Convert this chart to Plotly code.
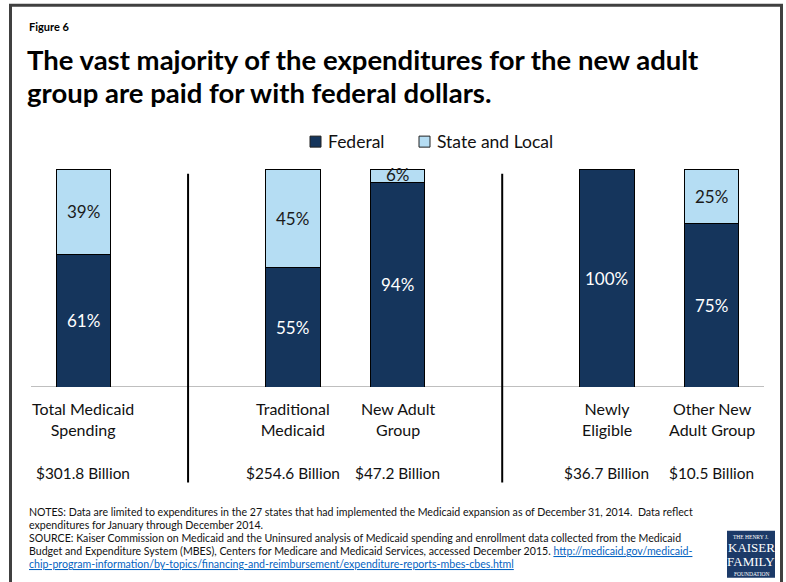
import plotly.graph_objects as go

# Spending groups and their split between funding sources (percent of spending)
categories = ["Total Medicaid<br>Spending", "Traditional<br>Medicaid", "New Adult<br>Group",
              "Newly<br>Eligible", "Other New<br>Adult Group"]
positions = [0, 2, 3, 5, 6]
totals = ["$301.8 Billion", "$254.6 Billion", "$47.2 Billion", "$36.7 Billion", "$10.5 Billion"]
federal = [61, 55, 94, 100, 75]
state_local = [39, 45, 6, 0, 25]
separators = [1, 4]
series_names = ["Federal", "State and Local"]

FED = "#15355c"
STATE = "#b5ddf3"
FONT = "Lato, 'Noto Sans', sans-serif"

W, H = 786, 582
L, R, T, B = 31, 764, 169.3, 386.7


def px_x(x):
    return (x - L) / (R - L)


def px_y(y):
    return (B - y) / (B - T)


fig = go.Figure()
fig.add_trace(go.Bar(x=positions, y=federal, name=series_names[0],
                     marker=dict(color=FED, line=dict(color="#000", width=1)),
                     width=0.52, hoverinfo="skip"))
fig.add_trace(go.Bar(x=positions, y=state_local, name=series_names[1],
                     marker=dict(color=STATE, line=dict(color="#000", width=1)),
                     width=0.52, hoverinfo="skip"))

ann = []
# segment value labels
for p, f, s in zip(positions, federal, state_local):
    if f:
        ann.append(dict(x=p, y=f / 2, text=f"{f}%", showarrow=False, xref="x", yref="y",
                        font=dict(family=FONT, size=17, color="white")))
    if s:
        ann.append(dict(x=p, y=f + s / 2 + (0.6 if s < 10 else 0), text=f"{s}%", showarrow=False,
                        xref="x", yref="y", font=dict(family=FONT, size=17, color="#1a1a1a")))

# category and total labels under the baseline
for p, c, t in zip(positions, categories, totals):
    ann.append(dict(x=p, y=px_y(397), yanchor="top", text=c, showarrow=False, xref="x", yref="paper",
                    font=dict(family=FONT, size=16, color="#111")))
    ann.append(dict(x=p, y=px_y(472), yanchor="middle", text=t, showarrow=False, xref="x", yref="paper",
                    font=dict(family=FONT, size=15.4, color="#111")))

# headings
ann.append(dict(x=px_x(27), y=px_y(27), xanchor="left", yanchor="middle", text="<b>Figure 6</b>",
                showarrow=False, xref="paper", yref="paper", font=dict(family=FONT, size=11, color="#000")))
for yy, line in [(60, "The vast majority of the expenditures for the new adult"),
                 (93.5, "group are paid for with federal dollars.")]:
    ann.append(dict(x=px_x(26), y=px_y(yy), xanchor="left", yanchor="middle", text=f"<b>{line}</b>",
                    showarrow=False, xref="paper", yref="paper", borderpad=0,
                    font=dict(family=FONT, size=27.5, color="#000")))

# notes and source
link = "<span style='color:#0563c1;text-decoration:underline'>{}</span>"
notes = [
    (511, "NOTES: Data are limited to expenditures in the 27 states that had implemented the Medicaid expansion as of December 31, 2014.  Data reflect"),
    (524, "expenditures for January through December 2014."),
    (537, "SOURCE: Kaiser Commission on Medicaid and the Uninsured analysis of Medicaid spending and enrollment data collected from the Medicaid"),
    (550, "Budget and Expenditure System (MBES), Centers for Medicare and Medicaid Services, accessed December 2015. "
          + link.format("http://medicaid.gov/medicaid-")),
    (563, link.format("chip-program-information/by-topics/financing-and-reimbursement/expenditure-reports-mbes-cbes.html")),
]
for yy, line in notes:
    ann.append(dict(x=px_x(27), y=px_y(yy), xanchor="left", yanchor="middle", text=line, showarrow=False,
                    xref="paper", yref="paper", font=dict(family=FONT, size=10.6, color="#111")))

# foundation logo text
logo_cx = px_x(751)
for yy, txt, sz in [(536, "THE HENRY J.", 5.5), (547, "KAISER", 13), (561, "FAMILY", 13), (573, "FOUNDATION", 5.5)]:
    ann.append(dict(x=logo_cx, y=px_y(yy), xanchor="center", yanchor="middle", text=txt, showarrow=False,
                    xref="paper", yref="paper",
                    font=dict(family="'Liberation Serif', 'DejaVu Serif', serif", size=sz, color="white")))

shapes = []
# legend keys
for x0, name, col in [(310, series_names[0], FED), (419, series_names[1], STATE)]:
    shapes.append(dict(type="rect", xref="paper", yref="paper", x0=px_x(x0), x1=px_x(x0 + 11),
                       y0=px_y(147.5), y1=px_y(136.5), fillcolor=col, line=dict(color="#222", width=1)))
    ann.append(dict(x=px_x(x0 + 16), y=px_y(142), xanchor="left", yanchor="middle", text=name,
                    showarrow=False, xref="paper", yref="paper", font=dict(family=FONT, size=17.5, color="#111")))
# frame
shapes.append(dict(type="rect", xref="paper", yref="paper", x0=px_x(10.5), x1=px_x(781.5), y0=px_y(600), y1=px_y(6),
                   line=dict(color="#404040", width=3), fillcolor="rgba(0,0,0,0)", layer="below"))
# baseline
shapes.append(dict(type="line", xref="paper", yref="y", x0=0, x1=1, y0=0, y1=0,
                   line=dict(color="#bfbfbf", width=2), layer="below"))
# group separators
for s in separators:
    shapes.append(dict(type="line", xref="x", yref="paper", x0=s, x1=s, y0=px_y(482), y1=px_y(174),
                       line=dict(color="#000", width=2)))
# logo box
shapes.append(dict(type="rect", xref="paper", yref="paper", x0=px_x(727), x1=px_x(775), y0=px_y(577), y1=px_y(530),
                   line=dict(width=0), fillcolor="#1c3a68"))

fig.update_layout(
    width=W, height=H,
    margin=dict(l=L, r=W - R, t=T, b=H - B, pad=0),
    barmode="stack",
    plot_bgcolor="white", paper_bgcolor="white",
    xaxis=dict(range=[-0.5, 6.5], showticklabels=False, showgrid=False, zeroline=False, fixedrange=True),
    yaxis=dict(range=[0, 100], visible=False, fixedrange=True),
    showlegend=False,
    annotations=ann, shapes=shapes,
)

fig.write_html("out.html")
